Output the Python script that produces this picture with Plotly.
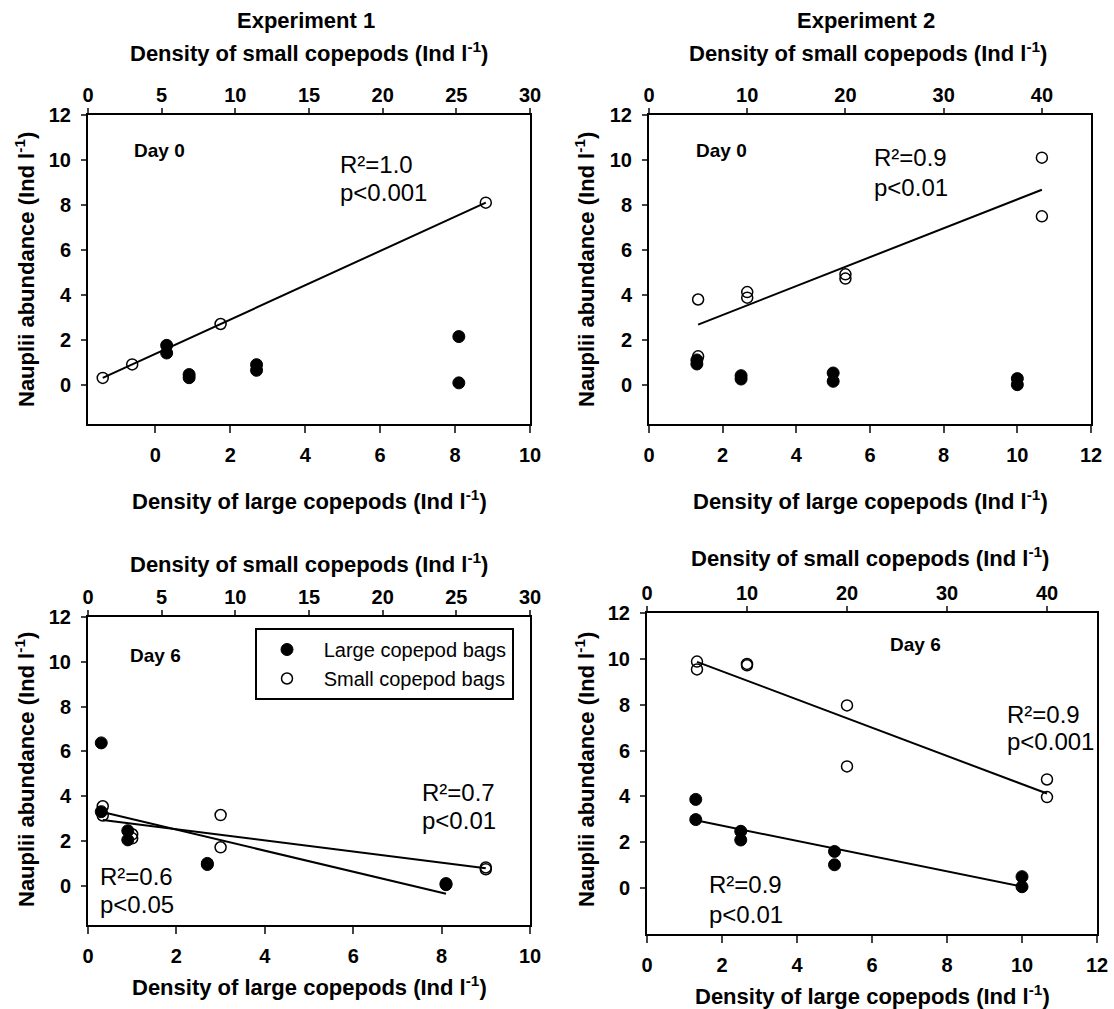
import numpy as np
import plotly.graph_objects as go

# ---------------- data ----------------
# Experiment 1, Day 0
e1d0_large_x = [0.3, 0.3, 0.9, 0.9, 2.7, 2.7, 8.1, 8.1]
e1d0_large_y = [1.75, 1.41, 0.45, 0.31, 0.89, 0.64, 2.14, 0.08]
e1d0_small_x = [1, 3, 9, 27]
e1d0_small_y = [0.3, 0.9, 2.7, 8.1]
# Experiment 2, Day 0
e2d0_large_x = [1.3, 1.3, 2.5, 2.5, 5, 5, 10, 10]
e2d0_large_y = [1.1, 0.92, 0.4, 0.25, 0.52, 0.15, 0.27, 0.0]
e2d0_small_x = [5, 5, 10, 10, 20, 20, 40, 40]
e2d0_small_y = [3.79, 1.26, 4.12, 3.87, 4.91, 4.72, 10.1, 7.49]
# Experiment 1, Day 6
e1d6_large_x = [0.3, 0.3, 0.9, 0.9, 2.7, 2.7, 8.1, 8.1]
e1d6_large_y = [6.38, 3.31, 2.46, 2.05, 1.0, 0.95, 0.1, 0.05]
e1d6_small_x = [1, 1, 3, 3, 9, 9, 27, 27]
e1d6_small_y = [3.55, 3.14, 2.3, 2.12, 3.16, 1.72, 0.82, 0.74]
# Experiment 2, Day 6
e2d6_large_x = [1.3, 1.3, 2.5, 2.5, 5, 5, 10, 10]
e2d6_large_y = [3.87, 2.99, 2.48, 2.1, 1.6, 1.02, 0.5, 0.06]
e2d6_small_x = [5, 5, 10, 10, 20, 20, 40, 40]
e2d6_small_y = [9.88, 9.54, 9.78, 9.72, 7.97, 5.31, 4.74, 3.97]

stats_e1d0_small = ["R²=1.0", "p&lt;0.001"]
stats_e2d0_small = ["R²=0.9", "p&lt;0.01"]
stats_e1d6_small = ["R²=0.7", "p&lt;0.01"]
stats_e1d6_large = ["R²=0.6", "p&lt;0.05"]
stats_e2d6_small = ["R²=0.9", "p&lt;0.001"]
stats_e2d6_large = ["R²=0.9", "p&lt;0.01"]

legend_names = ["Large copepod bags", "Small copepod bags"]
title_small = "<b>Density of small copepods (Ind l<sup>-1</sup>)</b>"
title_large = "<b>Density of large copepods (Ind l<sup>-1</sup>)</b>"
title_y = "<b>Nauplii abundance (Ind l<sup>-1</sup>)</b>"

# ---------------- layout geometry ----------------
W, H = 1114, 1009
FONT = "Arial, Liberation Sans, sans-serif"


def fx(px):
    return px / W


def fy(py):
    return 1 - py / H


panels = {
    1: dict(x=(88, 530), y=(115, 424), xr_l=[-1.8, 10], xr_s=[0, 30], dt_l=2, dt_s=5, yr=[-1.75, 12]),
    2: dict(x=(649, 1091), y=(115, 424), xr_l=[0, 12], xr_s=[0, 45], dt_l=2, dt_s=10, yr=[-1.75, 12]),
    3: dict(x=(88, 530), y=(617, 925), xr_l=[0, 10], xr_s=[0, 30], dt_l=2, dt_s=5, yr=[-1.75, 12]),
    4: dict(x=(647, 1097), y=(613, 934), xr_l=[0, 12], xr_s=[0, 45], dt_l=2, dt_s=10, yr=[-2, 12]),
}

fig = go.Figure()

filled = dict(symbol="circle", size=12, color="black", line=dict(color="black", width=1))
hollow = dict(symbol="circle-open", size=11, color="black", line=dict(color="black", width=1.5))


def axes_names(p):
    xl = "x" if p == 1 else f"x{2 * p - 1}"
    xs = f"x{2 * p}"
    yy = "y" if p == 1 else f"y{p}"
    return xl, xs, yy


def add_points(p, x, y, kind, show=False, name=None):
    xl, xs, yy = axes_names(p)
    fig.add_trace(go.Scatter(
        x=x, y=y, mode="markers",
        xaxis=xl if kind == "large" else xs, yaxis=yy,
        marker=filled if kind == "large" else hollow,
        showlegend=show, name=name, hoverinfo="x+y"))


def add_fit(p, x, y, kind):
    xl, xs, yy = axes_names(p)
    xa = np.array(x, float)
    ya = np.array(y, float)
    k, b = np.polyfit(xa, ya, 1)
    xx = np.array([xa.min(), xa.max()])
    fig.add_trace(go.Scatter(
        x=xx, y=k * xx + b, mode="lines",
        xaxis=xl if kind == "large" else xs, yaxis=yy,
        line=dict(color="black", width=2), showlegend=False, hoverinfo="skip"))


# Panel 1
add_fit(1, e1d0_small_x, e1d0_small_y, "small")
add_points(1, e1d0_large_x, e1d0_large_y, "large")
add_points(1, e1d0_small_x, e1d0_small_y, "small")
# Panel 2
add_fit(2, e2d0_small_x, e2d0_small_y, "small")
add_points(2, e2d0_large_x, e2d0_large_y, "large")
add_points(2, e2d0_small_x, e2d0_small_y, "small")
# Panel 3
add_fit(3, e1d6_large_x, e1d6_large_y, "large")
add_fit(3, e1d6_small_x, e1d6_small_y, "small")
add_points(3, e1d6_large_x, e1d6_large_y, "large", True, "&nbsp;&nbsp;&nbsp;" + legend_names[0])
add_points(3, e1d6_small_x, e1d6_small_y, "small", True, "&nbsp;&nbsp;&nbsp;" + legend_names[1])
# Panel 4
add_fit(4, e2d6_large_x, e2d6_large_y, "large")
add_fit(4, e2d6_small_x, e2d6_small_y, "small")
add_points(4, e2d6_large_x, e2d6_large_y, "large")
add_points(4, e2d6_small_x, e2d6_small_y, "small")

tickfont = dict(family=FONT, size=20, color="black", weight="bold")
layout = {}
for p, g in panels.items():
    xl, xs, yy = axes_names(p)
    xl_key = "xaxis" if p == 1 else f"xaxis{2 * p - 1}"
    xs_key = f"xaxis{2 * p}"
    y_key = "yaxis" if p == 1 else f"yaxis{p}"
    common = dict(showline=True, linewidth=2, linecolor="black", showgrid=False, zeroline=False,
                  tickfont=tickfont, automargin=False, tickwidth=2, ticks="outside")
    layout[xl_key] = dict(
        domain=[fx(g["x"][0]), fx(g["x"][1])], range=g["xr_l"], anchor=yy,
        tickmode="linear", tick0=0, dtick=g["dt_l"], ticklen=7, ticklabelstandoff=5, **common)
    layout[xs_key] = dict(
        overlaying=xl, side="top", range=g["xr_s"], anchor=yy,
        tickmode="linear", tick0=0, dtick=g["dt_s"], ticklen=5, ticklabelstandoff=-2, **common)
    layout[y_key] = dict(
        domain=[fy(g["y"][1]), fy(g["y"][0])], range=g["yr"], anchor=xl,
        tickmode="array", tickvals=[0, 2, 4, 6, 8, 10, 12], ticklen=5, mirror=True,
        ticklabelstandoff=6, **common)

ann = []


def txt(text, x, y, size, bold=False, xanchor="center", rot=0, xref="paper", yref="paper"):
    ann.append(dict(text=f"<b>{text}</b>" if bold else text, x=x, y=y, xref=xref, yref=yref,
                    xanchor=xanchor, yanchor="middle", showarrow=False, textangle=rot,
                    font=dict(family=FONT, size=size, color="black")))


# Titles
txt("Experiment 1", fx(306), fy(21), 22, True)
txt("Experiment 2", fx(866), fy(21), 22, True)
txt(title_small, fx(309), fy(52), 22)
txt(title_small, fx(868), fy(52), 22)
txt(title_large, fx(309), fy(500), 22)
txt(title_large, fx(870), fy(500), 22)
txt(title_small, fx(309), fy(563), 22)
txt(title_small, fx(870), fy(557), 22)
txt(title_large, fx(309), fy(986), 22)
txt(title_large, fx(872), fy(995), 22)
for (xc, yc) in [(25, 270), (585, 270), (25, 770), (585, 770)]:
    txt(title_y, fx(xc), fy(yc), 22, rot=-90)

# In-panel labels (data coordinates of the large-copepod axis)
txt("Day 0", 0.1, 10.4, 19, True, xref="x", yref="y")
txt(stats_e1d0_small[0], 4.88, 9.78, 24, xanchor="left", xref="x", yref="y")
txt(stats_e1d0_small[1], 4.88, 8.57, 24, xanchor="left", xref="x", yref="y")

txt("Day 0", 1.98, 10.4, 19, True, xref="x3", yref="y2")
txt(stats_e2d0_small[0], 6.05, 10.13, 24, xanchor="left", xref="x3", yref="y2")
txt(stats_e2d0_small[1], 6.05, 8.78, 24, xanchor="left", xref="x3", yref="y2")

txt("Day 6", 1.52, 10.26, 19, True, xref="x5", yref="y3")
txt(stats_e1d6_small[0], 7.5, 4.16, 24, xanchor="left", xref="x5", yref="y3")
txt(stats_e1d6_small[1], 7.5, 2.9, 24, xanchor="left", xref="x5", yref="y3")
txt(stats_e1d6_large[0], 0.23, 0.41, 24, xanchor="left", xref="x5", yref="y3")
txt(stats_e1d6_large[1], 0.23, -0.85, 24, xanchor="left", xref="x5", yref="y3")

txt("Day 6", 7.16, 10.61, 19, True, xref="x7", yref="y4")
txt(stats_e2d6_small[0], 9.55, 7.59, 24, xanchor="left", xref="x7", yref="y4")
txt(stats_e2d6_small[1], 9.55, 6.38, 24, xanchor="left", xref="x7", yref="y4")
txt(stats_e2d6_large[0], 1.6, 0.18, 24, xanchor="left", xref="x7", yref="y4")
txt(stats_e2d6_large[1], 1.6, -1.15, 24, xanchor="left", xref="x7", yref="y4")

fig.update_layout(
    width=W, height=H, margin=dict(l=0, r=0, t=0, b=0, pad=0, autoexpand=False),
    paper_bgcolor="white", plot_bgcolor="white",
    font=dict(family=FONT, color="black"),
    showlegend=True,
    legend=dict(x=fx(255), y=fy(628), xanchor="left", yanchor="top",
                bgcolor="white", bordercolor="black", borderwidth=2,
                font=dict(family=FONT, size=20, color="black"), indentation=10,
                tracegroupgap=0),
    annotations=ann,
    **layout,
)

pin_script = (
    "document.documentElement.style.margin='0';"
    "document.body.style.margin='0';document.body.style.padding='0';"
    "document.body.style.overflow='hidden';"
    "var d=document.getElementById('{plot_id}');"
    "d.style.position='fixed';d.style.left='0px';d.style.top='0px';"
)
fig.write_html("out.html", config={"displayModeBar": False}, post_script=pin_script)
